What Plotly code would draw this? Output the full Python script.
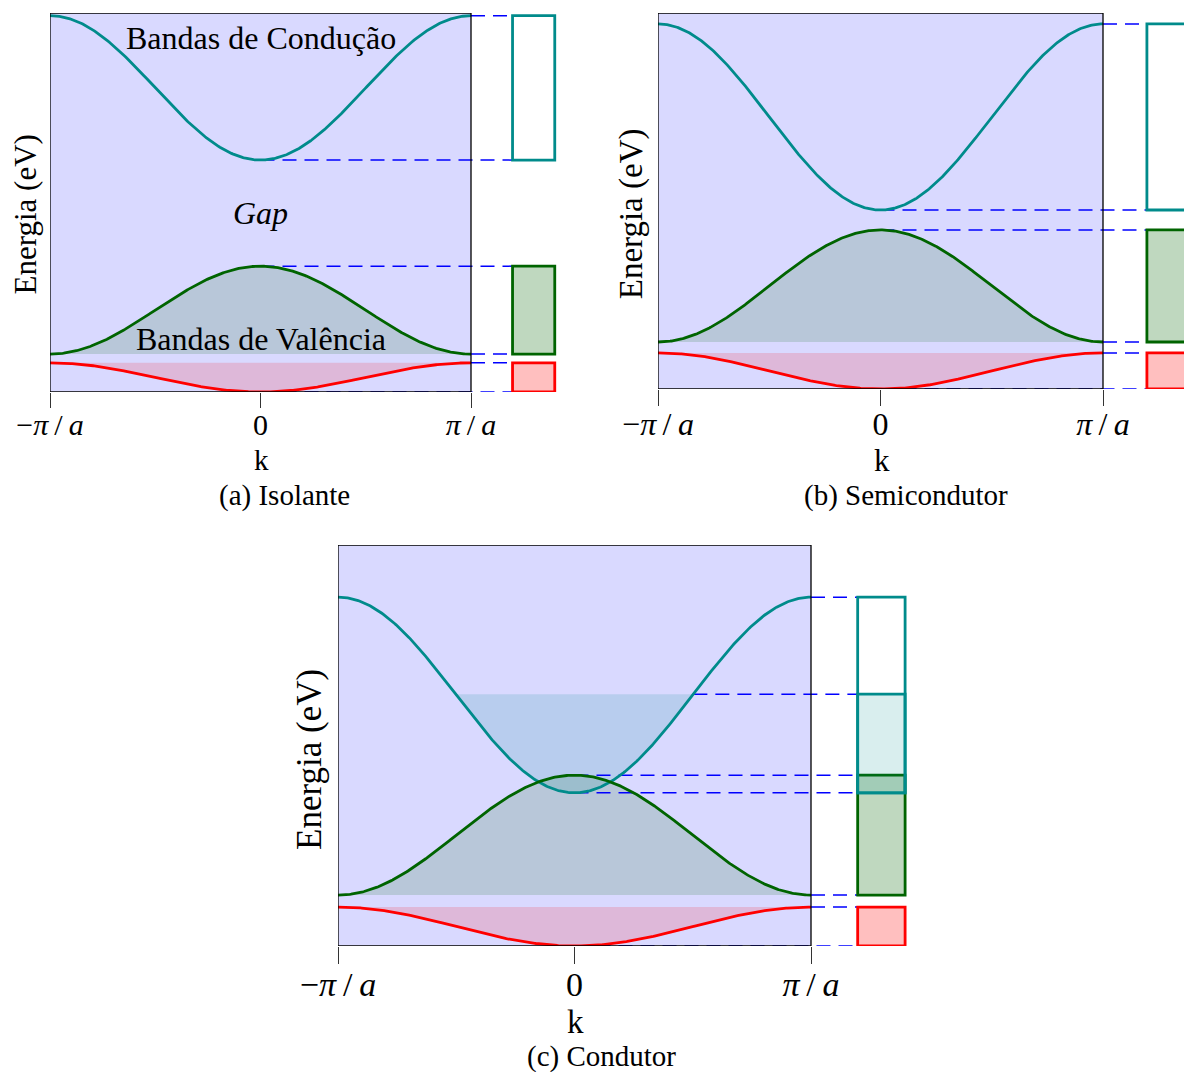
import numpy as np
import plotly.graph_objects as go

# ---- band data (energies in eV, arbitrary scale 0..10) ----
panel_captions = ["(a) Isolante", "(b) Semicondutor", "(c) Condutor"]
conduction_min = [6.12, 4.76, 3.82]
conduction_max = [9.93, 9.71, 8.70]
valence_min = [1.00, 1.25, 1.27]
valence_max = [3.32, 4.23, 4.26]
core_min = [0.00, 0.00, 0.00]
core_max = [0.77, 0.96, 0.97]
fermi_level_conductor = 6.28
tick_values = [-np.pi, 0.0, np.pi]
tick_labels = ["\u2212<i>\u03c0</i>\u2009/\u2009<i>a</i>", "0", "<i>\u03c0</i>\u2009/\u2009<i>a</i>"]
energy_range = [0.0, 10.0]

W, H = 1184, 1072
FONT = "Liberation Serif"

# pixel layout of each panel: plot frame left/right, right end of box area, top/bottom,
# and distance from the frame bottom to the caption
panel_px = [
    dict(left=50, right=471, end=560, top=13, bottom=392, caption=103),
    dict(left=658, right=1103, end=1184, top=13, bottom=389, caption=106),
    dict(left=338, right=811, end=915, top=545, bottom=946, caption=110),
]

TEAL = "#008b8b"
GREEN = "#006400"
RED = "#ff0000"
LAVENDER = "#d9d9ff"
BOX_X0 = np.pi + 0.62
BOX_X1 = np.pi + 1.25

k = np.linspace(-np.pi, np.pi, 400)


def px(x):
    return x / W


def py(y):
    return 1 - y / H


def paper_text(text, x, y, size, angle=0):
    return dict(text=text, x=px(x), y=py(y), xref="paper", yref="paper",
                xanchor="center", yanchor="middle", showarrow=False, textangle=angle,
                font=dict(family=FONT, size=size, color="black"))


fig = go.Figure()
layout_axes = {}
shapes = []
annotations = []

for i in range(3):
    p = panel_px[i]
    n = "" if i == 0 else str(i + 1)
    xa, ya = "x" + n, "y" + n
    s = (p["right"] - p["left"]) / 421.0  # panel scale relative to the first one
    per_rad = (p["right"] - p["left"]) / (2 * np.pi)
    xmax = np.pi + (p["end"] - p["right"]) / per_rad

    layout_axes["xaxis" + n] = dict(
        domain=[px(p["left"]), px(p["end"])], range=[-np.pi, xmax], anchor=ya,
        showgrid=False, zeroline=False, showline=False, automargin=False,
        tickmode="array", tickvals=tick_values, ticktext=tick_labels,
        ticks="outside", ticklen=round(15 * s), tickwidth=1.3, tickcolor="#333333",
        ticklabelstandoff=-9,
        tickfont=dict(family=FONT, size=round(30 * s), color="black"),
    )
    layout_axes["yaxis" + n] = dict(
        domain=[py(p["bottom"]), py(p["top"])], range=energy_range, anchor=xa,
        showgrid=False, zeroline=False, showline=False, showticklabels=False,
        ticks="", automargin=False,
    )

    # plot background and frame
    shapes.append(dict(type="rect", xref=xa, yref=ya, x0=-np.pi, x1=np.pi,
                       y0=energy_range[0], y1=energy_range[1], fillcolor=LAVENDER,
                       line=dict(width=0), layer="below"))
    shapes.append(dict(type="rect", xref=xa, yref=ya, x0=-np.pi, x1=np.pi,
                       y0=energy_range[0], y1=energy_range[1],
                       line=dict(color="black", width=1.3), layer="above"))

    cmin, cmax = conduction_min[i], conduction_max[i]
    vmin, vmax = valence_min[i], valence_max[i]
    rmin, rmax = core_min[i], core_max[i]

    cond = (cmax + cmin) / 2 - (cmax - cmin) / 2 * np.cos(k)
    val = (vmax + vmin) / 2 + (vmax - vmin) / 2 * np.cos(k)
    core = (rmax + rmin) / 2 - (rmax - rmin) / 2 * np.cos(k)

    # filled (occupied) regions
    fig.add_trace(go.Scatter(x=np.concatenate([k, k[::-1]]),
                             y=np.concatenate([val, np.full_like(k, vmin)]),
                             fill="toself", fillcolor="rgba(0,100,0,0.15)",
                             line=dict(width=0), mode="lines", hoverinfo="skip",
                             xaxis=xa, yaxis=ya, showlegend=False))
    fig.add_trace(go.Scatter(x=np.concatenate([k, k[::-1]]),
                             y=np.concatenate([core, np.full_like(k, rmax)]),
                             fill="toself", fillcolor="rgba(255,0,0,0.15)",
                             line=dict(width=0), mode="lines", hoverinfo="skip",
                             xaxis=xa, yaxis=ya, showlegend=False))

    levels = [(cmax, np.pi), (cmin, 0.0), (vmax, 0.0), (vmin, np.pi),
              (rmax, np.pi), (rmin, 0.0)]
    if i == 2:
        ef = fermi_level_conductor
        fig.add_trace(go.Scatter(x=np.concatenate([k, k[::-1]]),
                                 y=np.concatenate([np.minimum(cond, ef), np.full_like(k, ef)]),
                                 fill="toself", fillcolor="rgba(0,139,139,0.15)",
                                 line=dict(width=0), mode="lines", hoverinfo="skip",
                                 xaxis=xa, yaxis=ya, showlegend=False))
        kf = np.arccos(((cmax + cmin) / 2 - ef) / ((cmax - cmin) / 2))
        levels.append((ef, kf))

    # dashed guides from band edges to the level boxes
    for e, k0 in levels:
        fig.add_trace(go.Scatter(x=[k0, BOX_X0], y=[e, e], mode="lines",
                                 line=dict(color="#0000ff", width=1.5, dash="14px,8px"),
                                 hoverinfo="skip", xaxis=xa, yaxis=ya, showlegend=False))

    # dispersion curves
    for curve, col in [(cond, TEAL), (val, GREEN), (core, RED)]:
        fig.add_trace(go.Scatter(x=k, y=curve, mode="lines",
                                 line=dict(color=col, width=2.8), hoverinfo="skip",
                                 xaxis=xa, yaxis=ya, showlegend=False))

    # level boxes
    shapes.append(dict(type="rect", xref=xa, yref=ya, x0=BOX_X0, x1=BOX_X1, y0=rmin, y1=rmax,
                       fillcolor="rgba(255,0,0,0.25)", line=dict(color=RED, width=2.8)))
    shapes.append(dict(type="rect", xref=xa, yref=ya, x0=BOX_X0, x1=BOX_X1, y0=vmin, y1=vmax,
                       fillcolor="rgba(0,100,0,0.25)", line=dict(color=GREEN, width=2.8)))
    if i == 2:
        shapes.append(dict(type="rect", xref=xa, yref=ya, x0=BOX_X0, x1=BOX_X1, y0=cmin,
                           y1=fermi_level_conductor, fillcolor="rgba(0,139,139,0.15)",
                           line=dict(color=TEAL, width=2.8)))
    shapes.append(dict(type="rect", xref=xa, yref=ya, x0=BOX_X0, x1=BOX_X1, y0=cmin, y1=cmax,
                       fillcolor="rgba(0,0,0,0)", line=dict(color=TEAL, width=2.8)))

    # axis titles and caption
    cx = (p["left"] + p["right"]) / 2
    annotations.append(paper_text("k", cx + 1, p["bottom"] + 68 * s, round(29 * s)))
    annotations.append(paper_text(panel_captions[i], cx + 24 * s,
                                  p["bottom"] + p["caption"], 29))
    annotations.append(paper_text("Energia (eV)", p["left"] - 25 * s,
                                  (p["top"] + p["bottom"]) / 2 + 12 * s,
                                  round(31 * s), angle=-90))

# band labels in the insulator panel
for text, e in [("Bandas de Condução", 9.34), ("<i>Gap</i>", 4.72),
                ("Bandas de Valência", 1.40)]:
    annotations.append(dict(text=text, x=0, y=e, xref="x", yref="y", showarrow=False,
                            xanchor="center", yanchor="middle",
                            font=dict(family=FONT, size=32, color="black")))

fig.update_layout(
    template="none",
    width=W, height=H, margin=dict(l=0, r=0, t=0, b=0, autoexpand=False),
    paper_bgcolor="white", plot_bgcolor="rgba(0,0,0,0)",
    shapes=shapes, annotations=annotations, showlegend=False,
    **layout_axes,
)

fig.write_html("out.html")
